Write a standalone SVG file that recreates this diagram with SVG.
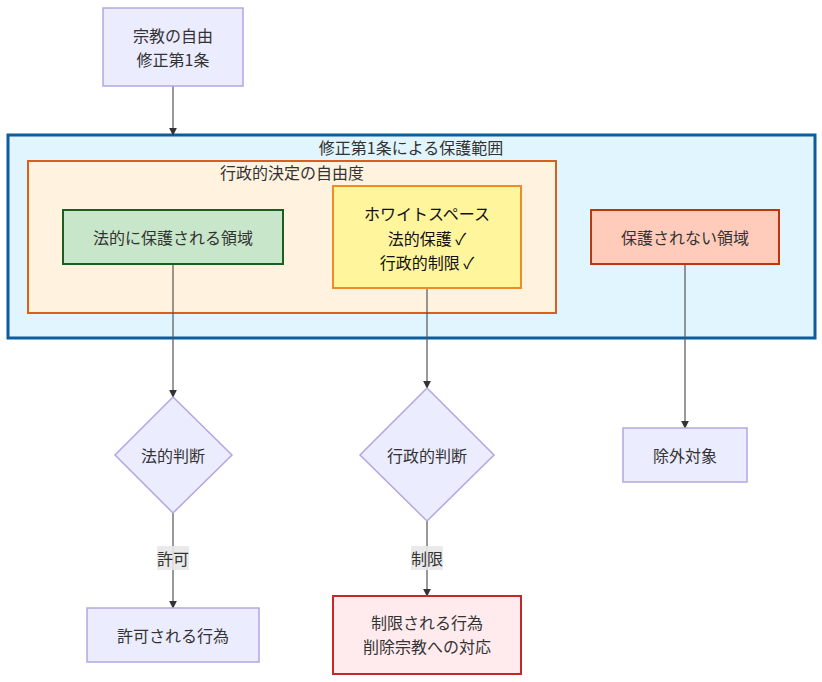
<svg xmlns="http://www.w3.org/2000/svg" width="822" height="682" viewBox="0 0 822 682">
<defs>
<style>
text{font-family:"Noto Sans CJK JP","Noto Sans","Liberation Sans",sans-serif;font-size:16px;fill:#333;text-anchor:middle;dominant-baseline:central}
.dark{fill:#111}
.def{fill:#ECECFF;stroke:#b3a6e3;stroke-width:1.5}
.edge{stroke:#555;stroke-width:1.2;fill:none;marker-end:url(#arr)}
.lbl{fill:#e8e8e8;opacity:0.9}
</style>
<marker id="arr" viewBox="0 0 10 10" refX="9" refY="5" markerWidth="8" markerHeight="8" orient="auto" markerUnits="userSpaceOnUse">
<path d="M0,0 L10,5 L0,10 z" fill="#333"/>
</marker>
</defs>
<rect width="822" height="682" fill="#fff"/>
<g id="cluster-outer">
<rect x="8" y="135" width="807" height="203" fill="#E1F5FE" stroke="#0D5C9E" stroke-width="3"/>
<text x="411" y="147">修正第1条による保護範囲</text>
</g>
<g id="cluster-inner">
<rect x="28" y="161" width="528" height="152" fill="#FFF3E0" stroke="#D9601A" stroke-width="2"/>
<text x="292" y="172">行政的決定の自由度</text>
</g>
<g id="connectors">
<path class="edge" d="M173,86 L173,135"/>
<path class="edge" d="M173,264 L173,397"/>
<path class="edge" d="M427,288 L427,388"/>
<path class="edge" d="M685,264 L685,428"/>
<path class="edge" d="M173,513 L173,608"/>
<path class="edge" d="M427,521 L427,596"/>
<rect class="lbl" x="157" y="546" width="32" height="24"/>
<text x="173" y="558">許可</text>
<rect class="lbl" x="411" y="546" width="32" height="24"/>
<text x="427" y="558">制限</text>
</g>
<g id="node-religion">
<rect class="def" x="103" y="8" width="140" height="78"/>
<text x="173" y="35">宗教の自由</text>
<text x="173" y="59">修正第1条</text>
</g>
<g id="node-legal">
<rect x="63" y="210" width="220" height="54" fill="#C8E6C9" stroke="#1B5E20" stroke-width="2"/>
<text x="173" y="237">法的に保護される領域</text>
</g>
<g id="node-white">
<rect x="333" y="186" width="188" height="102" fill="#FFF59D" stroke="#F08C28" stroke-width="2"/>
<text class="dark" x="427" y="213">ホワイトスペース</text>
<text class="dark" x="427" y="238">法的保護 ✓</text>
<text class="dark" x="427" y="262">行政的制限 ✓</text>
</g>
<g id="node-unprotected">
<rect x="591" y="210" width="188" height="54" fill="#FFCCBC" stroke="#BF360C" stroke-width="2"/>
<text x="685" y="237">保護されない領域</text>
</g>
<g id="node-legaljudge">
<polygon class="def" points="173,397 232,455 173,513 115,455"/>
<text x="173" y="455">法的判断</text>
</g>
<g id="node-adminjudge">
<polygon class="def" points="427,388 494,455 427,521 360,455"/>
<text x="427" y="455">行政的判断</text>
</g>
<g id="node-excluded">
<rect class="def" x="623" y="428" width="124" height="54"/>
<text x="685" y="455">除外対象</text>
</g>
<g id="node-permitted">
<rect class="def" x="87" y="608" width="172" height="54"/>
<text x="173" y="635">許可される行為</text>
</g>
<g id="node-restricted">
<rect x="333" y="596" width="188" height="78" fill="#FFEBEE" stroke="#C62828" stroke-width="2"/>
<text x="427" y="622">制限される行為</text>
<text x="427" y="646">削除宗教への対応</text>
</g>
</svg>
